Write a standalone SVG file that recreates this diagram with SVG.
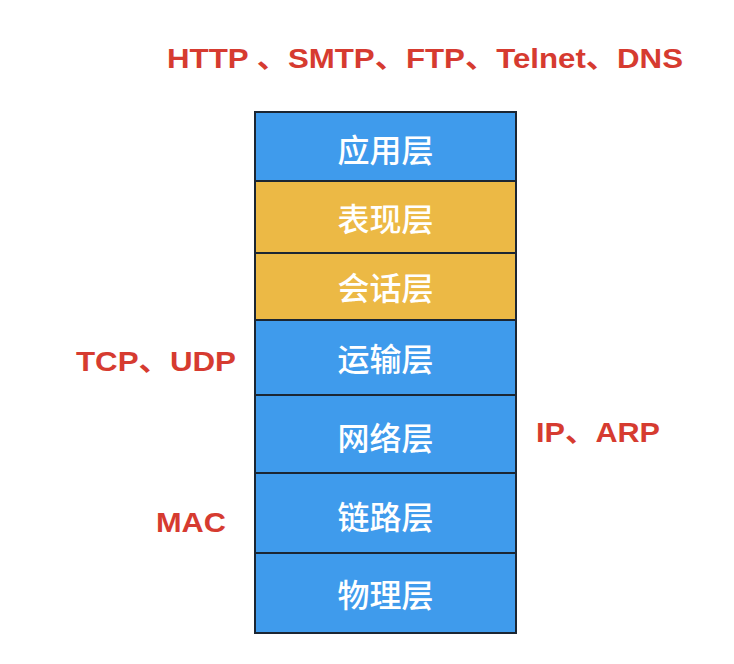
<svg xmlns="http://www.w3.org/2000/svg" width="734" height="664" viewBox="0 0 734 664">
<style>
.layer{stroke:#1b2633;stroke-width:2}
.blue{fill:#3f9bec}
.yellow{fill:#ecb945}
.lt{font-family:"Noto Sans CJK SC","Noto Sans CJK JP",sans-serif;font-size:32px;font-weight:500;fill:#ffffff;text-anchor:middle;dominant-baseline:central}
.proto{font-family:"Liberation Sans","Noto Sans CJK SC",sans-serif;font-weight:bold;font-size:28px;fill:#d63b30}
</style>
<rect width="734" height="664" fill="#ffffff"/>
<g id="app"><rect class="layer blue" x="255" y="112" width="261" height="69"/><text class="lt" x="385.5" y="148">应用层</text></g>
<g id="presentation"><rect class="layer yellow" x="255" y="181" width="261" height="72"/><text class="lt" x="385.5" y="217">表现层</text></g>
<g id="session"><rect class="layer yellow" x="255" y="253" width="261" height="67"/><text class="lt" x="385.5" y="286">会话层</text></g>
<g id="transport"><rect class="layer blue" x="255" y="320" width="261" height="75"/><text class="lt" x="385.5" y="357">运输层</text></g>
<g id="network"><rect class="layer blue" x="255" y="395" width="261" height="78"/><text class="lt" x="385.5" y="436">网络层</text></g>
<g id="link"><rect class="layer blue" x="255" y="473" width="261" height="80"/><text class="lt" x="385.5" y="515">链路层</text></g>
<g id="physical"><rect class="layer blue" x="255" y="553" width="261" height="80"/><text class="lt" x="385.5" y="593">物理层</text></g>
<g id="labels">
<text class="proto" x="167" y="68" textLength="516" lengthAdjust="spacingAndGlyphs">HTTP 、SMTP、FTP、Telnet、DNS</text>
<text class="proto" x="76" y="371" textLength="160" lengthAdjust="spacingAndGlyphs">TCP、UDP</text>
<text class="proto" x="536" y="442" textLength="124" lengthAdjust="spacingAndGlyphs">IP、ARP</text>
<text class="proto" x="156" y="532" textLength="70" lengthAdjust="spacingAndGlyphs">MAC</text>
</g>
<g id="connectors"></g>
</svg>
